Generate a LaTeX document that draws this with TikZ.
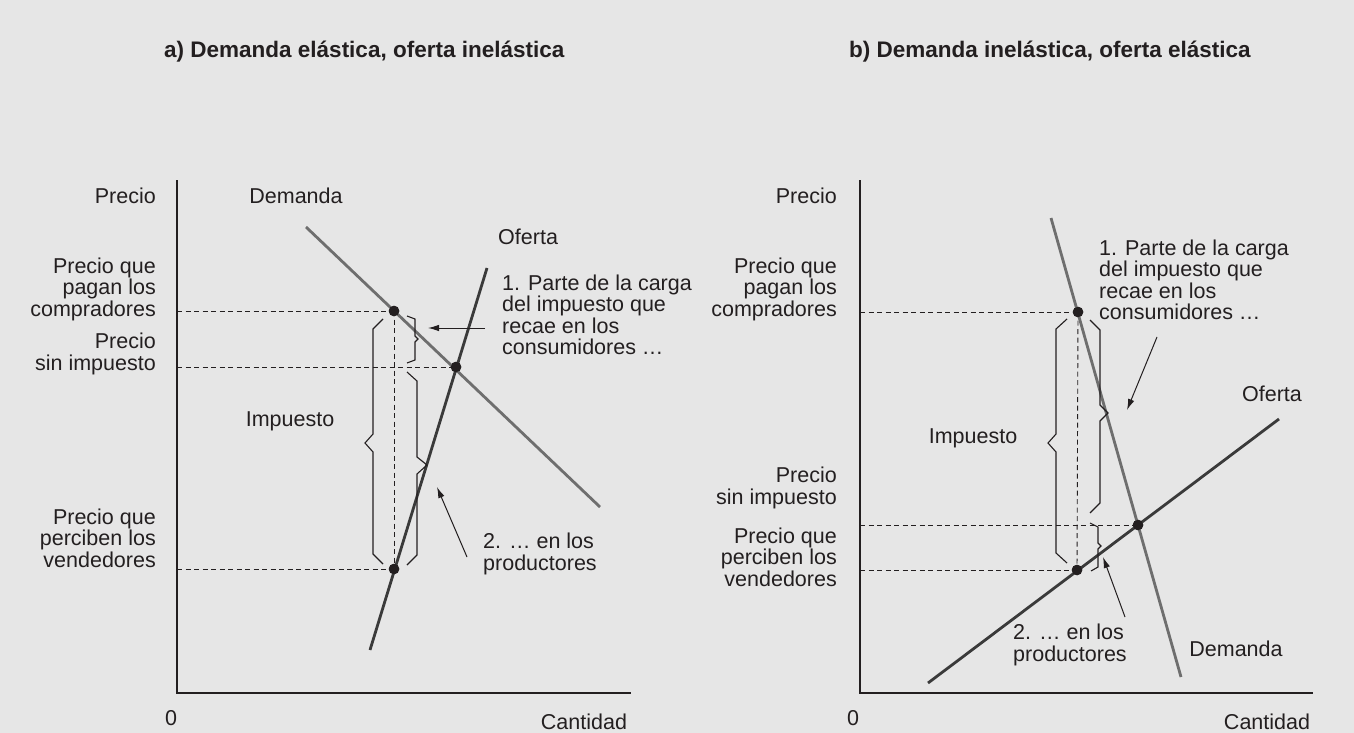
\documentclass[tikz,border=0pt]{standalone}
\usepackage{fontspec}
\setmainfont{Liberation Sans}
\usetikzlibrary{arrows.meta}
\definecolor{bg}{HTML}{E6E6E6}
\definecolor{ink}{HTML}{231F20}
\definecolor{demgray}{HTML}{6E6E6E}
\definecolor{supdark}{HTML}{3A3A3A}
\begin{document}
\begin{tikzpicture}[x=1pt,y=-1pt,
  lbl/.style={font=\fontsize{21.5}{21.5}\selectfont, text=ink, inner sep=0pt},
  rlbl/.style={lbl, align=right, anchor=east},
  llbl/.style={lbl, align=left, anchor=west},
  ttl/.style={font=\fontsize{22.5}{24}\selectfont\bfseries, text=ink, inner sep=0pt, anchor=west},
  axis/.style={draw=ink, line width=1.3pt},
  demline/.style={draw=demgray, line width=2.8pt},
  supline/.style={draw=supdark, line width=2.8pt},
  guide/.style={draw=ink, line width=0.9pt, dash pattern=on 5pt off 3.5pt},
  bracepath/.style={draw=ink, line width=1.1pt},
  arr/.style={draw=ink, line width=1pt, -{Latex[length=11pt,width=6.5pt]}},
  dotnode/.style={circle, fill=ink, inner sep=0pt, minimum size=10.5pt}
]
\useasboundingbox[fill=bg] (0,0) rectangle (1354,733);

% ================= Panel a =================
\node[ttl] (ta) at (164,52) {a) Demanda elástica, oferta inelástica};
% axes
\coordinate (aO) at (177,693);
\coordinate (aY) at (177,180);
\coordinate (aX) at (631,693);
\draw[axis] (aY) -- (aO) -- (aX);
% curves
\coordinate (aD1) at (306,227);
\coordinate (aD2) at (600,507);
\coordinate (aS1) at (370,650);
\coordinate (aS2) at (487,268);
% points and dashed guides
\node[dotnode] (aB) at (394,311) {};
\node[dotnode] (aE) at (456,367) {};
\node[dotnode] (aV) at (394,569) {};
\coordinate (aGy1) at (177,311);
\coordinate (aGy2) at (177,367);
\coordinate (aGy3) at (177,569);
\draw[guide] (aGy1) -- (aB.center);
\draw[guide] (aGy2) -- (aE.center);
\draw[guide] (aGy3) -- (aV.center);
\draw[guide] (aB.center) -- (aV.center);
\draw[demline] (aD1) -- (aD2);
\draw[supline] (aS1) -- (aS2);
\node[dotnode] at (aB) {};
\node[dotnode] at (aE) {};
\node[dotnode] at (aV) {};
% braces
\draw[bracepath] (383,319) -- (373,329) -- (373,434) -- (365,443) -- (373,452) -- (373,554) -- (383,564);
\draw[bracepath] (407,316) -- (415,319) -- (415,336) -- (418,339) -- (415,342) -- (415,360) -- (407,363);
\draw[bracepath] (407,372) -- (417,381) -- (417,457) -- (427,465) -- (417,474) -- (417,555) -- (407,565);
% arrows
\coordinate (aA1s) at (485,328);
\coordinate (aA1e) at (428,328);
\coordinate (aA2s) at (467,557);
\coordinate (aA2e) at (437,487);
\draw[arr] (aA1s) -- (aA1e);
\draw[arr] (aA2s) -- (aA2e);
% labels
\node[rlbl] (aPrecio) at (156,196) {Precio};
\node[rlbl] (aComp) at (156,289) {Precio que\\pagan los\\compradores};
\node[rlbl] (aSin) at (156,354) {Precio\\sin impuesto};
\node[rlbl] (aVend) at (156,538) {Precio que\\perciben los\\vendedores};
\node[lbl] (aDem) at (296,196) {Demanda};
\node[llbl] (aOf) at (498,237) {Oferta};
\node[llbl] (aT1) at (502,315) {1. Parte de la carga\\del impuesto que\\recae en los\\consumidores …};
\node[lbl] (aImp) at (290,421) {Impuesto};
\node[llbl] (aT2) at (483,554) {2. … en los\\productores};
\node[lbl] (a0) at (171,718) {0};
\node[lbl] (aCant) at (584,722) {Cantidad};

% ================= Panel b =================
\node[ttl] (tb) at (849,52) {b) Demanda inelástica, oferta elástica};
\coordinate (bO) at (860,693);
\coordinate (bY) at (860,180);
\coordinate (bX) at (1313,693);
\draw[axis] (bY) -- (bO) -- (bX);
\coordinate (bD1) at (1051,218);
\coordinate (bD2) at (1181,677);
\coordinate (bS1) at (928,683);
\coordinate (bS2) at (1279,419);
\node[dotnode] (bB) at (1078,312) {};
\node[dotnode] (bE) at (1138,525) {};
\node[dotnode] (bV) at (1077,570) {};
\coordinate (bGy1) at (860,312);
\coordinate (bGy2) at (860,525);
\coordinate (bGy3) at (860,570);
\draw[guide] (bGy1) -- (bB.center);
\draw[guide] (bGy2) -- (bE.center);
\draw[guide] (bGy3) -- (bV.center);
\draw[guide] (bB.center) -- (bV.center);
\draw[demline] (bD1) -- (bD2);
\draw[supline] (bS1) -- (bS2);
\node[dotnode] at (bB) {};
\node[dotnode] at (bE) {};
\node[dotnode] at (bV) {};
% braces
\draw[bracepath] (1067,319) -- (1056,329) -- (1056,434) -- (1048,443) -- (1056,452) -- (1056,553) -- (1067,563);
\draw[bracepath] (1090,320) -- (1100,330) -- (1100,405) -- (1108,413) -- (1100,421) -- (1100,503) -- (1090,513);
\draw[bracepath] (1090,523) -- (1098,527) -- (1098,543) -- (1101,546) -- (1098,549) -- (1098,567) -- (1091,571);
% arrows
\coordinate (bA1s) at (1157,337);
\coordinate (bA1e) at (1127,410);
\coordinate (bA2s) at (1125,617);
\coordinate (bA2e) at (1103,557);
\draw[arr] (bA1s) -- (bA1e);
\draw[arr] (bA2s) -- (bA2e);
% labels
\node[rlbl] (bPrecio) at (837,196) {Precio};
\node[rlbl] (bComp) at (837,289) {Precio que\\pagan los\\compradores};
\node[rlbl] (bSin) at (837,488) {Precio\\sin impuesto};
\node[rlbl] (bVend) at (837,557) {Precio que\\perciben los\\vendedores};
\node[llbl] (bT1) at (1099,280) {1. Parte de la carga\\del impuesto que\\recae en los\\consumidores …};
\node[lbl] (bOf) at (1272,394) {Oferta};
\node[lbl] (bImp) at (973,438) {Impuesto};
\node[llbl] (bT2) at (1013,645) {2. … en los\\productores};
\node[lbl] (bDem) at (1236,649) {Demanda};
\node[lbl] (b0) at (853,718) {0};
\node[lbl] (bCant) at (1267,722) {Cantidad};
\end{tikzpicture}
\end{document}
